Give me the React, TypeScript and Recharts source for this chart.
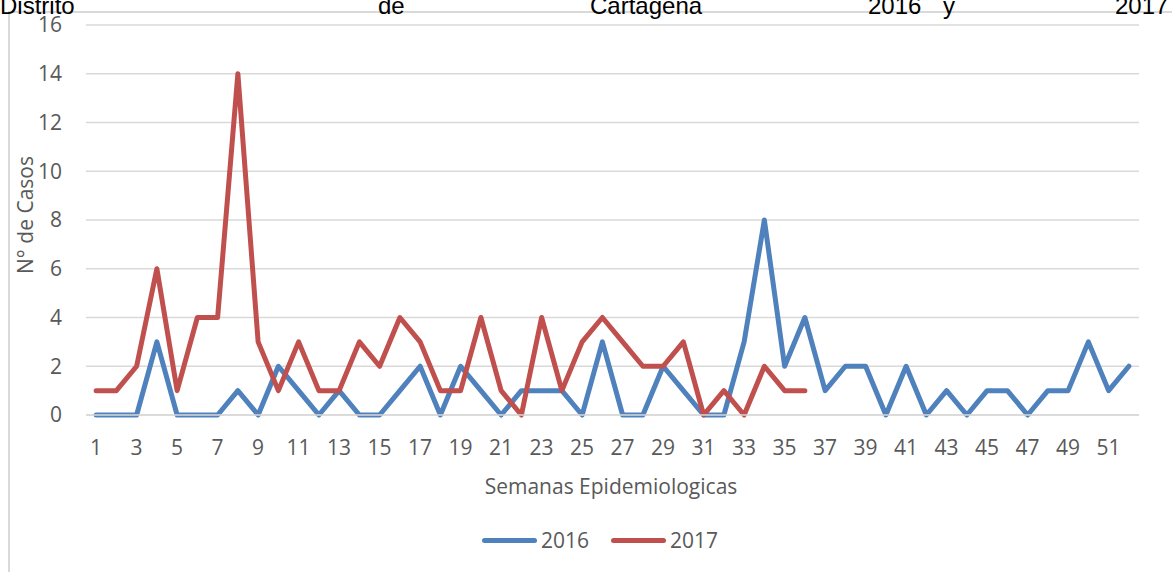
import React from 'react';
import { LineChart, Line, XAxis, YAxis, CartesianGrid, Legend } from 'recharts';

// Semanas epidemiologicas 1..52
const weeks = [
  1, 2, 3, 4, 5, 6, 7, 8, 9, 10, 11, 12, 13, 14, 15, 16, 17, 18, 19, 20, 21, 22, 23, 24, 25, 26,
  27, 28, 29, 30, 31, 32, 33, 34, 35, 36, 37, 38, 39, 40, 41, 42, 43, 44, 45, 46, 47, 48, 49, 50, 51, 52,
];

const cases2016 = [
  0, 0, 0, 3, 0, 0, 0, 1, 0, 2, 1, 0, 1, 0, 0, 1, 2, 0, 2, 1, 0, 1, 1, 1, 0, 3,
  0, 0, 2, 1, 0, 0, 3, 8, 2, 4, 1, 2, 2, 0, 2, 0, 1, 0, 1, 1, 0, 1, 1, 3, 1, 2,
];

// 2017 only reported up to week 36
const cases2017 = [
  1, 1, 2, 6, 1, 4, 4, 14, 3, 1, 3, 1, 1, 3, 2, 4, 3, 1, 1, 4, 1, 0, 4, 1, 3, 4,
  3, 2, 2, 3, 0, 1, 0, 2, 1, 1,
];

const yTicks = [0, 2, 4, 6, 8, 10, 12, 14, 16];

const titleWords = ['Distrito', 'de', 'Cartagena', '2016', 'y', '2017'];
const titleX = [0, 378, 590, 868, 943, 1115];

const BLUE = '#4F81BD';
const RED = '#C0504D';
const GREY_TEXT = '#595959';
const FONT = '"Open Sans", sans-serif';

const data = weeks.map((w, i) => ({
  week: w,
  y2016: cases2016[i],
  y2017: i < cases2017.length ? cases2017[i] : undefined,
}));

const LegendBox = () => (
  <div
    style={{
      display: 'flex',
      justifyContent: 'center',
      alignItems: 'center',
      fontFamily: FONT,
      fontSize: 21,
      color: GREY_TEXT,
    }}
  >
    {[
      { name: '2016', color: BLUE },
      { name: '2017', color: RED },
    ].map((it, i) => (
      <div key={it.name} style={{ display: 'flex', alignItems: 'center', marginLeft: i ? 22 : 0 }}>
        <span
          style={{
            display: 'inline-block',
            width: 55,
            height: 5,
            borderRadius: 3,
            background: it.color,
            marginRight: 4,
          }}
        />
        <span>{it.name}</span>
      </div>
    ))}
  </div>
);

export default function App() {
  return (
    <div style={{ position: 'absolute', left: 0, top: 0, width: 1172, height: 572, overflow: 'hidden', background: '#fff' }}>
      {/* chart frame, right and bottom edges fall outside the picture */}
      <div
        style={{
          position: 'absolute',
          left: 8,
          top: 11,
          width: 1240,
          height: 640,
          border: '2px solid #d9d9d9',
        }}
      />
      <svg width={1172} height={40} style={{ position: 'absolute', left: 0, top: 0 }}>
        {titleWords.map((t, i) => (
          <text key={t} x={titleX[i]} y={14} fontFamily='"Liberation Sans", Arial, sans-serif' fontSize={24} fill="#000">
            {t}
          </text>
        ))}
      </svg>
      <div style={{ position: 'absolute', left: 0, top: 0 }}>
        <LineChart width={1172} height={572} data={data} margin={{ top: 25, right: 33, left: 0, bottom: 77 }}>
          <CartesianGrid vertical={false} stroke="#d9d9d9" strokeWidth={1.5} />
          <XAxis
            dataKey="week"
            type="category"
            scale="band"
            interval={1}
            height={80}
            tickLine={false}
            axisLine={{ stroke: '#d9d9d9', strokeWidth: 1.5 }}
            tickSize={0}
            tickMargin={25}
            tick={{ fill: GREY_TEXT, fontSize: 21, fontFamily: FONT }}
            label={{
              content: () => (
                <text x={611} y={494} textAnchor="middle" fill={GREY_TEXT} fontSize={21} fontFamily={FONT}>
                  Semanas Epidemiologicas
                </text>
              ),
            }}
          />
          <YAxis
            width={86}
            domain={[0, 16]}
            ticks={yTicks}
            interval={0}
            tickLine={false}
            axisLine={false}
            tickSize={0}
            tickMargin={24}
            tick={{ fill: GREY_TEXT, fontSize: 21, fontFamily: FONT }}
            label={{
              content: () => (
                <text
                  x={33}
                  y={215}
                  transform="rotate(-90 33 215)"
                  textAnchor="middle"
                  fill={GREY_TEXT}
                  fontSize={21}
                  fontFamily={FONT}
                >
                  N° de Casos
                </text>
              ),
            }}
          />
          <Legend
            layout="horizontal"
            verticalAlign="middle"
            align="center"
            content={<LegendBox />}
            wrapperStyle={{ left: 0, top: 526, width: 1200 }}
          />
          <Line
            type="linear"
            dataKey="y2016"
            name="2016"
            stroke={BLUE}
            strokeWidth={5}
            dot={false}
            activeDot={false}
            strokeLinejoin="round"
            strokeLinecap="round"
            isAnimationActive={false}
          />
          <Line
            type="linear"
            dataKey="y2017"
            name="2017"
            stroke={RED}
            strokeWidth={5}
            dot={false}
            activeDot={false}
            strokeLinejoin="round"
            strokeLinecap="round"
            isAnimationActive={false}
          />
        </LineChart>
      </div>
    </div>
  );
}
